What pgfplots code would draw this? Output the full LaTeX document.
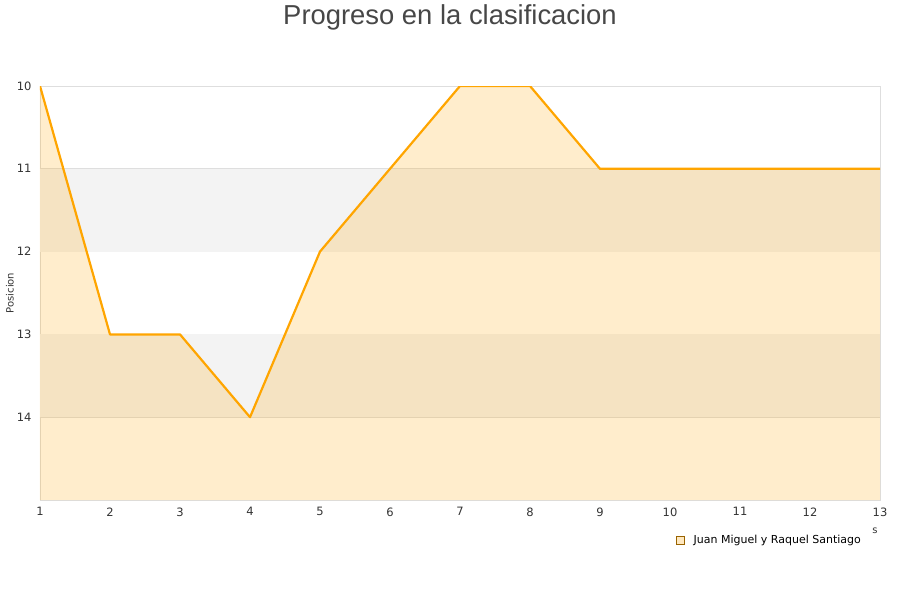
\documentclass[border=0pt]{standalone}
\usepackage{pgfplots}
\pgfplotsset{compat=1.18}
\usepackage{fontspec}
\setmainfont{DejaVu Sans}
\newfontfamily\titlefont{Liberation Sans}
\definecolor{linec}{RGB}{255,165,0}
\definecolor{bandc}{RGB}{243,243,243}
\definecolor{gridc}{RGB}{222,222,222}
\definecolor{txtc}{RGB}{51,51,51}
\begin{document}
\begin{tikzpicture}[x=1pt,y=1pt]
\path[use as bounding box] (0,0) rectangle (900,600);
\node[font=\titlefont\fontsize{27.4}{31}\selectfont, text=txtc!90!white, anchor=base] at (450,575) {Progreso en la clasificacion};
\node[rotate=90, font=\fontsize{10}{12}\selectfont, text=txtc] at (10,307) {Posicion};
\begin{axis}[
  at={(40pt,100pt)}, anchor=south west,
  scale only axis, width=840pt, height=414pt,
  xmin=1, xmax=13, ymin=10, ymax=15,
  y dir=reverse,
  xtick={1,...,13}, ytick={10,...,14},
  axis line style={draw=gridc},
  tick style={draw=none},
  ymajorgrids, grid style={draw=gridc, line width=0.8pt},
  tick label style={font=\fontsize{11.5}{13}\selectfont, text=txtc},
  /pgf/number format/assume math mode=true,
  yticklabel style={xshift=-5pt},
  xticklabel style={yshift=-4pt},
  legend style={at={(axis description cs:1,0)}, anchor=north east, xshift=-14pt, yshift=-31pt,
    draw=none, fill=none, font=\fontsize{11}{13}\selectfont, text=black,
    /tikz/every odd column/.append style={column sep=7pt}},
  legend cell align=left,
  legend image code/.code={\draw[draw=linec!60!black, fill=linec!25!white, line width=0.5pt] (0pt,-4pt) rectangle (8pt,4pt);},
]
% alternating background bands
\addplot[draw=none, fill=bandc, forget plot] coordinates {(1,11) (13,11) (13,12) (1,12)} -- cycle;
\addplot[draw=none, fill=bandc, forget plot] coordinates {(1,13) (13,13) (13,14) (1,14)} -- cycle;
% filled area down to the bottom of the axis
\addplot[draw=none, fill=linec, fill opacity=0.2, forget plot] coordinates {
  (1,15) (1,10) (2,13) (3,13) (4,14) (5,12) (6,11) (7,10) (8,10)
  (9,11) (10,11) (11,11) (12,11) (13,11) (13,15)} -- cycle;
% position per round
\addplot[draw=linec, line width=2.2pt, line join=round, forget plot] coordinates {
  (1,10) (2,13) (3,13) (4,14) (5,12) (6,11) (7,10) (8,10)
  (9,11) (10,11) (11,11) (12,11) (13,11)};
\addlegendimage{draw=linec}
\addlegendentry{Juan Miguel y Raquel Santiago}
\end{axis}
\node[font=\fontsize{10}{11}\selectfont, text=txtc] at (875,69) {s};
\end{tikzpicture}
\end{document}
